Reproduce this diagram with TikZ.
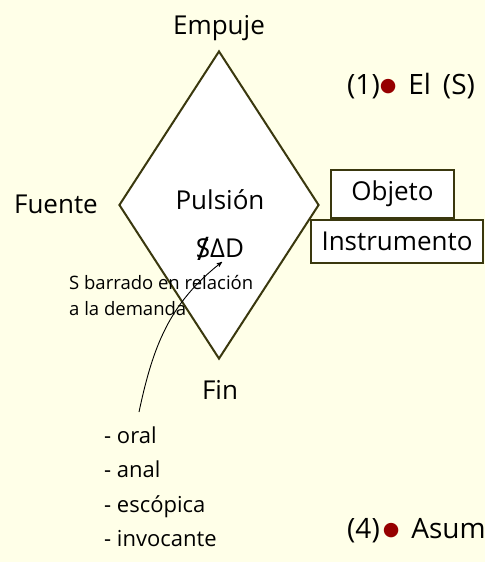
\documentclass[tikz,border=0pt]{standalone}
\usepackage{fontspec}
\setmainfont{Open Sans}
\newfontfamily\symbolfont{DejaVu Sans}
\usepackage{tikz}
\usetikzlibrary{arrows,shapes.geometric,positioning}

\definecolor{paper}{RGB}{255,255,232}
\definecolor{olive line}{RGB}{58,56,14}
\definecolor{dot red}{RGB}{150,0,0}
\newcommand{\barredS}{\ooalign{S\cr\hidewidth\raisebox{-3pt}{\scalebox{1.25}{/}}\hidewidth}}
\newcommand{\reddot}{\raisebox{3pt}{\textcolor{dot red}{\fontsize{19}{19}\symbolfont ●}}}

\begin{document}
\begin{tikzpicture}[x=1pt,y=-1pt,>=stealth',
		main node/.style={diamond,draw=olive line,fill=white,line width=2pt,inner sep=0pt,
			minimum width=200pt,minimum height=308pt},
		label node/.style={font=\fontsize{26}{30}\selectfont,inner sep=0pt},
		box node/.style={rectangle,draw=olive line,fill=white,line width=2pt,
			font=\fontsize{26}{30}\selectfont,inner sep=0pt},
		note node/.style={font=\fontsize{18.5}{26}\selectfont,align=left,inner sep=0pt},
		list node/.style={font=\fontsize{22}{26}\selectfont,inner sep=0pt,anchor=base west},
		item node/.style={font=\fontsize{28}{30}\selectfont,inner sep=0pt,anchor=base west}]

	\fill[paper] (0,0) rectangle (485,562);
	\clip (0,0) rectangle (485,562);

	% la pulsion
	\node[main node] (pulsion) at (219,205) {};
	\node[label node,anchor=base] (nombre) at (220,209) {Pulsión};
	\node[label node,anchor=base] (matema) at (220,257) {\barredS ΔD};

	\node[label node,anchor=base] (empuje) at ([yshift=16pt]pulsion.north) {Empuje};
	\node[label node,anchor=base east] (fuente) at ([xshift=-20pt,yshift=-8pt]pulsion.west) {Fuente};
	\node[label node,anchor=base] (fin) at ([xshift=1pt,yshift=-39pt]pulsion.south) {Fin};

	% objeto
	\node[box node,minimum width=123pt,minimum height=48pt] (objeto) at (392.5,194) {Objeto};
	\node[box node,minimum width=172pt,minimum height=43pt,below=0pt of objeto,xshift=4.5pt] (instrumento) {Instrumento};

	% nota
	\node[note node,anchor=north west] (nota) at (69,275) {S barrado en relación\\a la demanda};

	% objetos parciales
	\foreach \n/\t [count=\i] in {oral/oral,anal/anal,escopica/escópica,invocante/invocante}
		\node[list node] (\n) at (104,443+34.5*\i-34.5) {- \t};

	\coordinate (cola) at (139,412);
	\coordinate (punta) at (222,262);
	\draw[->,line width=0.9pt] (cola) to[out=78,in=218] (punta);

	% texto de la derecha
	\node[item node] (uno) at (347,94) {(1)\reddot\hspace{12pt}El\hspace{12pt}(S)};
	\node[item node] (cuatro) at (347,538) {(4)\hspace{3pt}\reddot\hspace{12pt}Asum};

\end{tikzpicture}
\end{document}
